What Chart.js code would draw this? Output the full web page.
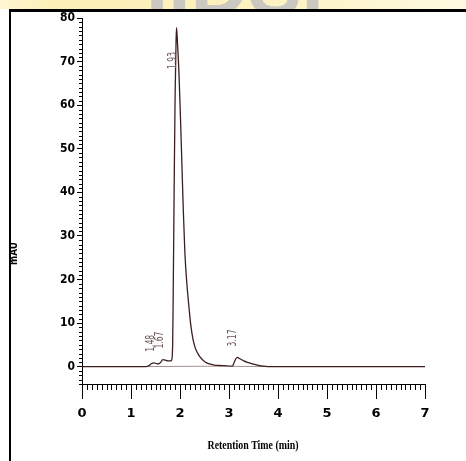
<!DOCTYPE html>
<html>
<head>
<meta charset="utf-8">
<script src="https://cdn.jsdelivr.net/npm/chart.js@4.4.0/dist/chart.umd.min.js"></script>
<style>
  body { margin: 0; background: #fff; }
  #chart { display: block; }
</style>
</head>
<body>
<canvas id="chart" width="466" height="461"></canvas>
<script>
// chromatogram (time in min, signal in mAU)
const times = [0, 1.3, 1.36, 1.42, 1.47, 1.52, 1.56, 1.6, 1.65, 1.7, 1.75, 1.8, 1.83,
  1.85, 1.86, 1.88, 1.9, 1.92, 1.93, 1.95, 1.98, 2.01, 2.04, 2.07, 2.1, 2.14, 2.18,
  2.22, 2.27, 2.32, 2.38, 2.44, 2.52, 2.6, 2.7, 2.8, 2.9, 3.0, 3.07, 3.1, 3.14, 3.17,
  3.22, 3.3, 3.4, 3.5, 3.6, 3.7, 3.8, 5, 7];
const signal = [0, 0, 0.15, 0.7, 0.85, 0.7, 0.6, 0.9, 1.6, 1.5, 1.3, 1.3, 1.5,
  5, 15, 40, 62, 75, 77.8, 74, 67, 57, 46, 35, 26, 19, 14,
  9.5, 6, 4, 2.7, 1.8, 1.0, 0.6, 0.35, 0.25, 0.2, 0.12, 0.1, 0.8, 1.8, 2.1,
  1.8, 1.3, 0.9, 0.55, 0.3, 0.1, 0, 0, 0];

// integration baselines under the peaks
const baseTimes = [1.35, 2.95, 3.0, 3.07, 3.8];
const baseValues = [0, 0.1, null, 0.05, 0];

const peakTimes = [1.48, 1.67, 1.93, 3.17];
const peakLabels = ["1.48", "1.67", "1.93", "3.17"];

const xTicks = [0, 1, 2, 3, 4, 5, 6, 7];
const yTicks = [0, 10, 20, 30, 40, 50, 60, 70, 80];

const xTitle = "Retention Time (min)";
const yTitle = "mAU";
const watermark = "IIDSP";

function squeezedText(ctx, text, x, y, width, rot) {
  const w = ctx.measureText(text).width;
  ctx.save();
  ctx.translate(x, y);
  ctx.rotate(rot);
  ctx.scale(width / w, 1);
  ctx.fillText(text, 0, 0);
  ctx.restore();
}

// page decoration: yellow strip with watermark, black frame
const frame = {
  id: "frame",
  beforeDraw(chart) {
    const ctx = chart.ctx;
    const W = chart.width, H = chart.height;
    ctx.save();
    ctx.fillStyle = "#fff";
    ctx.fillRect(0, 0, W, H);
    const g = ctx.createLinearGradient(0, 0, W, 0);
    g.addColorStop(0, "#fdf6d2");
    g.addColorStop(0.12, "#fcefb6");
    g.addColorStop(0.55, "#fcf1c0");
    g.addColorStop(1, "#fefae2");
    ctx.fillStyle = g;
    ctx.fillRect(0, 0, W, 9);
    ctx.beginPath();
    ctx.rect(0, 0, W, 9);
    ctx.clip();
    ctx.fillStyle = "#cbc8c2";
    ctx.font = "bold 80px 'Liberation Sans'";
    ctx.textBaseline = "alphabetic";
    ctx.textAlign = "left";
    ctx.fillText(watermark, 146, 14);
    ctx.restore();
  },
  afterDraw(chart) {
    const ctx = chart.ctx;
    const W = chart.width, H = chart.height;
    ctx.save();
    ctx.fillStyle = "#000";
    ctx.fillRect(9, 9, W - 9, 3);
    ctx.fillRect(9, 9, 2, H - 9);
    ctx.restore();
  }
};

const extras = {
  id: "extras",
  afterDraw(chart) {
    const ctx = chart.ctx;
    const x = chart.scales.x, y = chart.scales.y;
    const area = chart.chartArea;

    // minor ticks
    ctx.save();
    ctx.strokeStyle = "#000";
    ctx.lineWidth = 1;
    ctx.beginPath();
    for (let i = -4; i <= 80; i++) {
      if (i % 10 === 0) continue;
      const py = Math.round(y.getPixelForValue(i)) + 0.5;
      ctx.moveTo(area.left - 3, py);
      ctx.lineTo(area.left, py);
    }
    for (let i = 1; i < 70; i++) {
      if (i % 10 === 0) continue;
      const px = Math.round(x.getPixelForValue(i / 10)) + 0.5;
      ctx.moveTo(px, area.bottom);
      ctx.lineTo(px, area.bottom + 6);
    }
    ctx.stroke();

    // peak labels
    ctx.fillStyle = "#6e5656";
    ctx.font = "12px 'DejaVu Sans'";
    ctx.textAlign = "left";
    ctx.textBaseline = "middle";
    peakTimes.forEach((t, k) => {
      let top = 0;
      times.forEach((tt, i) => {
        if (Math.abs(tt - t) < 0.04) top = Math.max(top, signal[i]);
      });
      const px = x.getPixelForValue(t) - 4;
      const len = 17;
      let bottom = y.getPixelForValue(top) - 11;
      if (bottom - len < area.top + 34) bottom = area.top + 34 + len;
      squeezedText(ctx, peakLabels[k], px, bottom, len, -Math.PI / 2);
    });

    // axis titles
    ctx.fillStyle = "#000";
    ctx.textAlign = "left";
    ctx.textBaseline = "middle";
    ctx.font = "bold 12px 'Liberation Serif'";
    const tw = 91;
    squeezedText(ctx, xTitle, 253 - tw / 2, 446, tw, 0);
    ctx.font = "bold 11px 'DejaVu Sans'";
    squeezedText(ctx, yTitle, 14, 265, 23, -Math.PI / 2);
    ctx.restore();
  }
};

const ctx = document.getElementById("chart");
const myChart = new Chart(ctx, {
  type: "line",
  data: {
    datasets: [
      {
        data: times.map((t, i) => ({ x: t, y: signal[i] })),
        borderColor: "#3d1f1f",
        borderWidth: 1.3,
        pointRadius: 0,
        cubicInterpolationMode: "monotone",
        fill: false,
      },
      {
        data: baseTimes.map((t, i) => ({ x: t, y: baseValues[i] })),
        borderColor: "#a89090",
        borderWidth: 1,
        pointRadius: 0,
        spanGaps: false,
        fill: false,
      },
    ],
  },
  options: {
    responsive: false,
    animation: false,
    layout: { padding: { left: 0, right: 41, top: 18, bottom: 0 } },
    plugins: { legend: { display: false }, tooltip: { enabled: false } },
    scales: {
      x: {
        type: "linear",
        min: 0,
        max: 7,
        afterFit: (s) => { s.height = 77; },
        afterBuildTicks: (s) => { s.ticks = xTicks.map((v) => ({ value: v })); },
        border: { display: true, color: "#000", width: 1 },
        grid: { drawOnChartArea: false, drawTicks: true, tickLength: 15, color: "#000" },
        ticks: {
          color: "#000",
          padding: 7,
          maxRotation: 0,
          font: { family: "'DejaVu Sans'", size: 13, weight: "bold" },
        },
      },
      y: {
        min: -4,
        max: 80,
        afterFit: (s) => { s.width = 82; },
        afterBuildTicks: (s) => { s.ticks = yTicks.map((v) => ({ value: v })); },
        border: { display: true, color: "#000", width: 1 },
        grid: { drawOnChartArea: false, drawTicks: true, tickLength: 5, color: "#000" },
        ticks: {
          color: "#000",
          padding: 2,
          font: { family: "'DejaVu Sans Condensed', 'Liberation Sans Narrow', 'DejaVu Sans'", size: 12, weight: "bold" },
        },
      },
    },
  },
  plugins: [frame, extras],
});
</script>
</body>
</html>
